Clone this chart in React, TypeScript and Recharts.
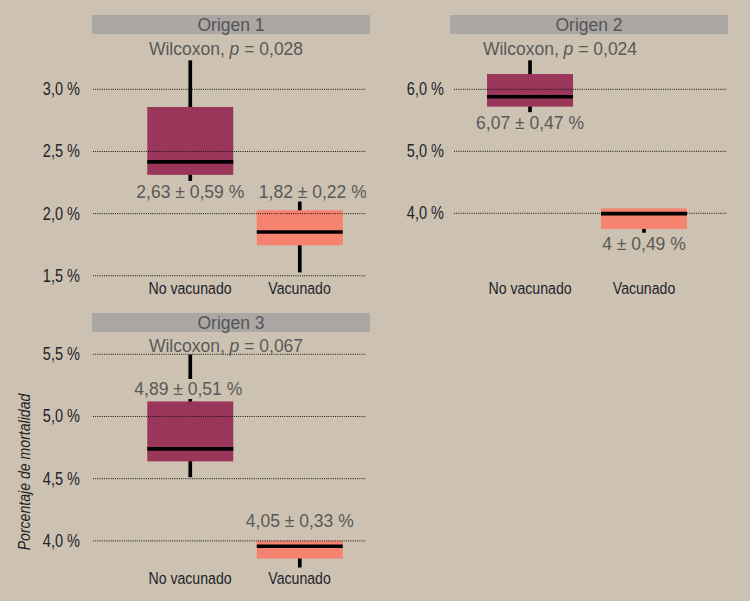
import React from "react";
import { ComposedChart, Bar, XAxis, YAxis, ReferenceLine } from "recharts";

const categories = ["No vacunado", "Vacunado"];
const boxColors = ["#9a365a", "#f6836f"];

// Origen 1
const o1Min = [2.263, 1.527];
const o1Q1 = [2.312, 1.745];
const o1Median = [2.416, 1.852];
const o1Q3 = [2.858, 2.027];
const o1Max = [3.241, 2.107];
const o1Labels = ["2,63 ± 0,59 %", "1,82 ± 0,22 %"];
const o1Ticks = [1.5, 2, 2.5, 3];
const o1P = "0,028";

// Origen 2
const o2Min = [5.623, 3.687];
const o2Q1 = [5.72, 3.747];
const o2Median = [5.88, 3.994];
const o2Q3 = [6.247, 4.08];
const o2Max = [6.484, 4.08];
const o2Labels = ["6,07 ± 0,47 %", "4 ± 0,49 %"];
const o2Ticks = [4, 5, 6];
const o2P = "0,024";

// Origen 3
const o3Min = [4.512, 3.786];
const o3Q1 = [4.639, 3.858];
const o3Median = [4.74, 3.957];
const o3Q3 = [5.121, 4.0];
const o3Max = [5.506, 4.0];
const o3Labels = ["4,89 ± 0,51 %", "4,05 ± 0,33 %"];
const o3Ticks = [4, 4.5, 5, 5.5];
const o3P = "0,067";

const BG = "#cdc2b1";
const HEAD = "#aba7a5";
const GREY_TXT = "#595959";
const DARK_TXT = "#22222a";
const SANS = "'Liberation Sans', Arial, sans-serif";
const NARROW_SCALE = 0.83;

const buildRows = (mn: number[], q1: number[], md: number[], q3: number[], mx: number[], labels: string[]) =>
  categories.map((name, i) => ({
    pos: i,
    name,
    min: mn[i],
    q1: q1[i],
    median: md[i],
    q3: q3[i],
    max: mx[i],
    label: labels[i],
  }));

const fmtPct = (v: number) => v.toFixed(1).replace(".", ",") + " %";

const YTick = ({ x, y, payload }: any) => (
  <text
    transform={`translate(${x},${y + 6}) scale(${NARROW_SCALE},1)`}
    textAnchor="end"
    fontSize={17.5}
    fontFamily={SANS}
    fill={DARK_TXT}
  >
    {fmtPct(payload.value)}
  </text>
);

const XTick = ({ x, y, payload }: any) => (
  <text
    transform={`translate(${x},${y + 12}) scale(${NARROW_SCALE},1)`}
    textAnchor="middle"
    fontSize={17}
    fontFamily={SANS}
    fill={DARK_TXT}
  >
    {categories[payload.value]}
  </text>
);

const BoxShape = (props: any) => {
  const { x, y, width, height, payload, index, labelAt, labelDx } = props;
  const top = Math.min(y, y + height);
  const h = Math.abs(height);
  const hi = payload.max;
  const lo = payload.min;
  const span = hi - lo || 1;
  const py = (v: number) => top + (h * (hi - v)) / span;
  const cx = x + width / 2;
  const ly = py(labelAt[index]);
  const lx = cx + labelDx[index];
  const lw = payload.label.length * 8.7;
  return (
    <g>
      <line x1={cx} x2={cx} y1={py(hi) + 1} y2={py(lo)} stroke="#000" strokeWidth={3.7} />
      <rect
        x={x}
        y={py(payload.q3)}
        width={width}
        height={py(payload.q1) - py(payload.q3)}
        fill={boxColors[index]}
      />
      <line
        x1={x}
        x2={x + width}
        y1={py(payload.median)}
        y2={py(payload.median)}
        stroke="#000"
        strokeWidth={3.7}
      />
      <rect x={lx - lw / 2} y={ly - 10} width={lw} height={20} fill={BG} />
      <text x={lx} y={ly + 6.3} textAnchor="middle" fontSize={17.5} fontFamily={SANS} fill={GREY_TXT}>
        {payload.label}
      </text>
    </g>
  );
};

type PanelProps = {
  rows: any[];
  width: number;
  height: number;
  margin: { top: number; right: number; bottom: number; left: number };
  yAxisWidth: number;
  yDomain: [number, number];
  yTicks: number[];
  xDomain: [number, number];
  tickMargin: number;
  labelAt: number[];
  labelDx: number[];
};

const Panel = (p: PanelProps) => (
  <ComposedChart width={p.width} height={p.height} data={p.rows} margin={p.margin}>
    <XAxis
      type="number"
      dataKey="pos"
      domain={p.xDomain}
      ticks={[0, 1]}
      interval={0}
      allowDataOverflow
      axisLine={false}
      tickLine={false}
      tickSize={0}
      tickMargin={2}
      height={20}
      tick={<XTick />}
    />
    <YAxis
      type="number"
      domain={p.yDomain}
      ticks={p.yTicks}
      interval={0}
      allowDataOverflow
      axisLine={false}
      tickLine={false}
      tickSize={0}
      tickMargin={p.tickMargin}
      width={p.yAxisWidth}
      tick={<YTick />}
    />
    {p.yTicks.map((t) => (
      <ReferenceLine key={t} y={t} stroke="#111" strokeDasharray="1 1.2" />
    ))}
    <Bar
      dataKey={(d: any) => [d.min, d.max]}
      barSize={86}
      isAnimationActive={false}
      shape={(sp: any) => <BoxShape {...sp} labelAt={p.labelAt} labelDx={p.labelDx} />}
    />
  </ComposedChart>
);

const Header = ({ x, y, w, text }: { x: number; y: number; w: number; text: string }) => (
  <g>
    <rect x={x} y={y} width={w} height={19} fill={HEAD} />
    <text x={x + w / 2} y={y + 15.7} textAnchor="middle" fontSize={17.5} fontFamily={SANS} fill="#555">
      {text}
    </text>
  </g>
);

const Wilcox = ({ x, y, p }: { x: number; y: number; p: string }) => (
  <text x={x} y={y} textAnchor="middle" fontSize={17.5} fontFamily={SANS} fill={GREY_TXT}>
    Wilcoxon, <tspan fontStyle="italic">p</tspan> = {p}
  </text>
);

export default function App() {
  const rows1 = buildRows(o1Min, o1Q1, o1Median, o1Q3, o1Max, o1Labels);
  const rows2 = buildRows(o2Min, o2Q1, o2Median, o2Q3, o2Max, o2Labels);
  const rows3 = buildRows(o3Min, o3Q1, o3Median, o3Q3, o3Max, o3Labels);
  return (
    <div style={{ position: "absolute", left: 0, top: 0, width: 750, height: 601, background: BG, overflow: "hidden" }}>
      <div style={{ position: "absolute", left: 0, top: 0 }}>
        <Panel
          rows={rows1}
          width={380}
          height={300}
          margin={{ top: 35, right: 14, bottom: 0, left: 0 }}
          yAxisWidth={93}
          yDomain={[1.466, 3.437]}
          yTicks={o1Ticks}
          xDomain={[-0.886, 1.607]}
          tickMargin={13}
          labelAt={[2.18, 2.18]}
          labelDx={[0, 13]}
        />
      </div>
      <div style={{ position: "absolute", left: 380, top: 0 }}>
        <Panel
          rows={rows2}
          width={370}
          height={300}
          margin={{ top: 35, right: 23, bottom: 0, left: 0 }}
          yAxisWidth={74}
          yDomain={[2.924, 6.876]}
          yTicks={o2Ticks}
          xDomain={[-0.667, 1.728]}
          tickMargin={10}
          labelAt={[5.468, 3.513]}
          labelDx={[0, 0]}
        />
      </div>
      <div style={{ position: "absolute", left: 0, top: 300 }}>
        <Panel
          rows={rows3}
          width={380}
          height={301}
          margin={{ top: 34, right: 14, bottom: 11, left: 0 }}
          yAxisWidth={93}
          yDomain={[3.766, 5.663]}
          yTicks={o3Ticks}
          xDomain={[-0.886, 1.607]}
          tickMargin={13}
          labelAt={[5.221, 4.165]}
          labelDx={[-2, 0]}
        />
      </div>
      <svg width={750} height={601} style={{ position: "absolute", left: 0, top: 0, pointerEvents: "none" }}>
        <Header x={92} y={15} w={278} text="Origen 1" />
        <Header x={450} y={15} w={278} text="Origen 2" />
        <Header x={92} y={313} w={278} text="Origen 3" />
        <Wilcox x={226} y={55} p={o1P} />
        <Wilcox x={560} y={55} p={o2P} />
        <Wilcox x={226} y={352} p={o3P} />
        <text
          transform={`translate(30,472) rotate(-90) scale(${NARROW_SCALE},1)`}
          textAnchor="middle"
          fontSize={17}
          fontStyle="italic"
          fontFamily={SANS}
          fill={DARK_TXT}
        >
          Porcentaje de mortalidad
        </text>
      </svg>
    </div>
  );
}
